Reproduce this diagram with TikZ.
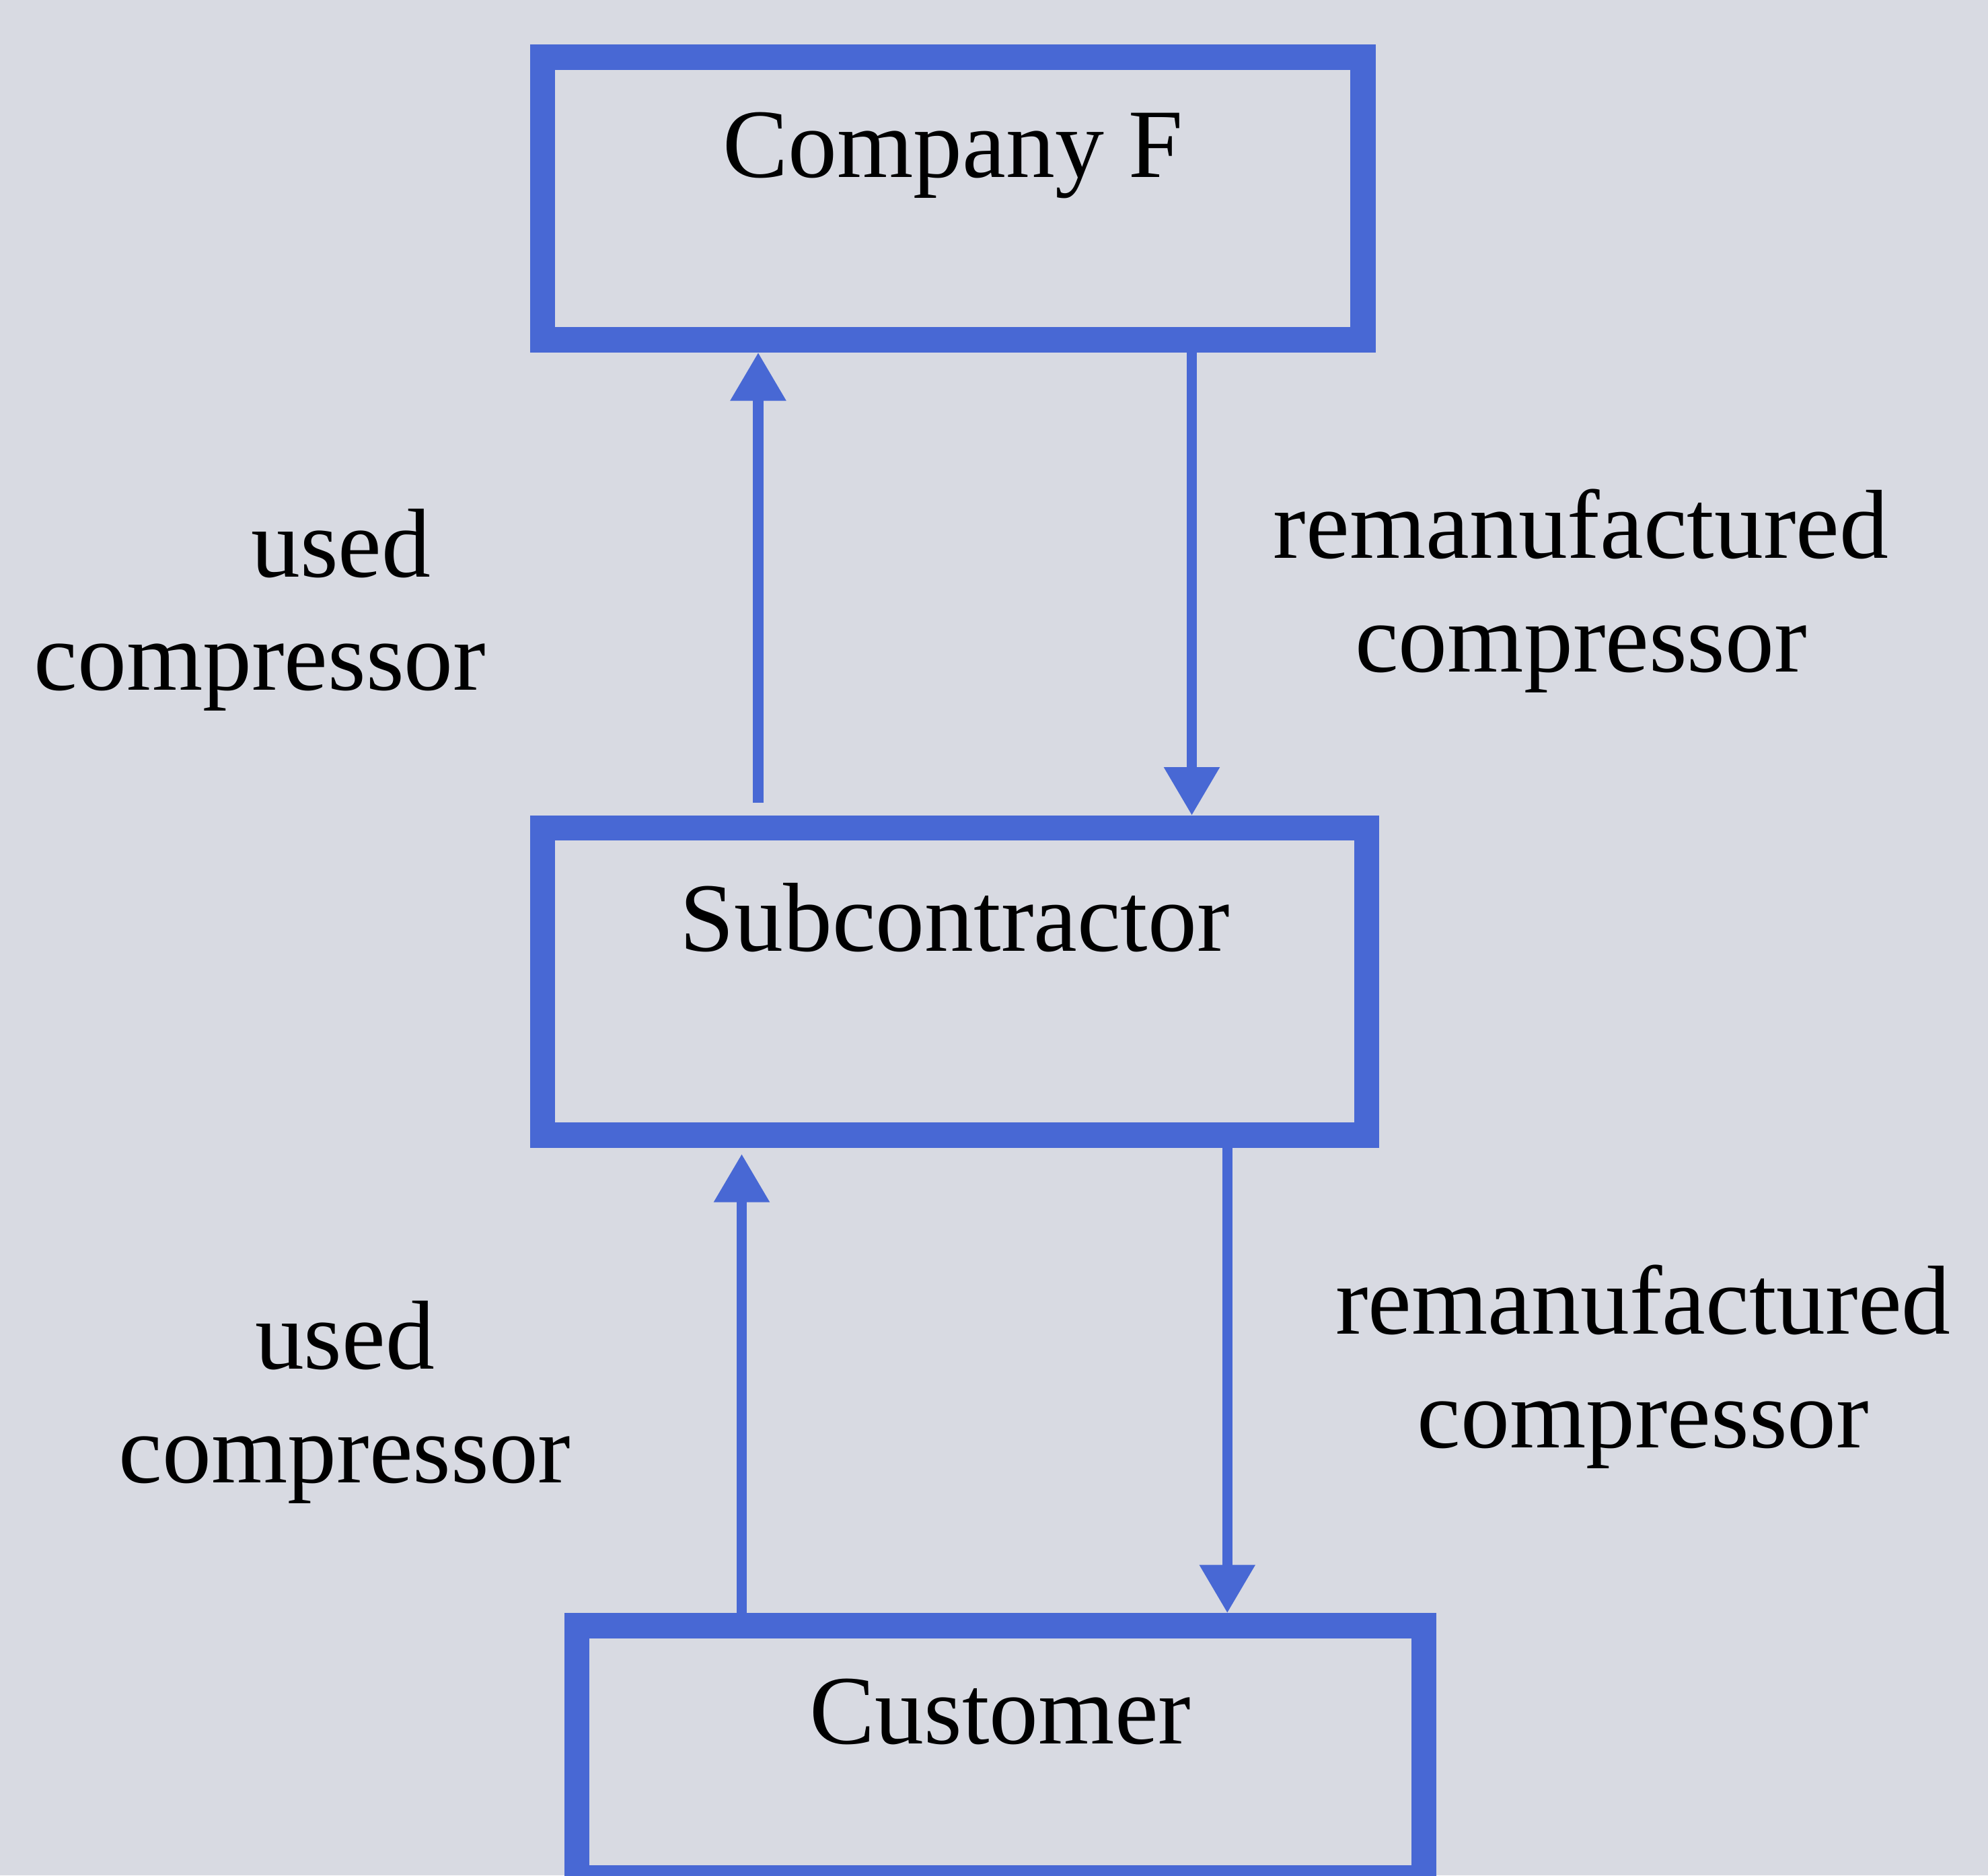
\documentclass[tikz,border=0pt]{standalone}
\usepackage{fontspec}
\setmainfont{Liberation Serif}
\usetikzlibrary{arrows.meta}
\definecolor{paper}{RGB}{216,218,226}
\definecolor{flowblue}{RGB}{72,104,212}

\begin{document}
\begin{tikzpicture}[font=\fontsize{22}{25.5}\selectfont,
    box/.style={draw=flowblue, line width=2mm, inner sep=0pt, minimum width=#1},
    flow/.style={draw=flowblue, line width=0.8mm, -{Triangle[length=3.8mm,width=4.2mm]}},
    lbl/.style={align=center}]
    \useasboundingbox (0,0) rectangle (15.68,-14.79);
    \fill [paper] (0,0) rectangle (15.68,-14.79);
    \coordinate (F) at (7.515,-1.565);
    \coordinate (S) at (7.53,-7.74);
    \coordinate (C) at (7.89,-13.815);
    \node (company) at (F) [box=6.47cm, minimum height=2.23cm, text height=0.95cm, text depth=1.28cm] {Company F};
    \node (sub) at (S) [box=6.50cm, minimum height=2.42cm, text height=0.97cm, text depth=1.45cm] {Subcontractor};
    \node (cust) at (C) [box=6.68cm, minimum height=1.99cm, text height=0.93cm, text depth=1.06cm] {Customer};
    \draw [flow] ([xshift=-1.55cm, yshift=0.1cm]sub.north) -- ([xshift=-1.535cm]company.south);
    \draw [flow] ([xshift=1.885cm]company.south) -- ([xshift=1.87cm]sub.north);
    \draw [flow] ([xshift=-2.04cm]cust.north) -- ([xshift=-1.68cm, yshift=-0.05cm]sub.south);
    \draw [flow] ([xshift=2.15cm]sub.south) -- ([xshift=1.79cm]cust.north);
    \node (usedA) at (2.05,-4.81) [lbl] {\hspace*{1.28cm}used\\compressor};
    \node (remanA) at (12.47,-4.66) [lbl] {remanufactured\\compressor};
    \node (usedB) at (2.72,-11.06) [lbl] {used\\compressor};
    \node (remanB) at (12.96,-10.78) [lbl] {remanufactured\\compressor};
\end{tikzpicture}
\end{document}
